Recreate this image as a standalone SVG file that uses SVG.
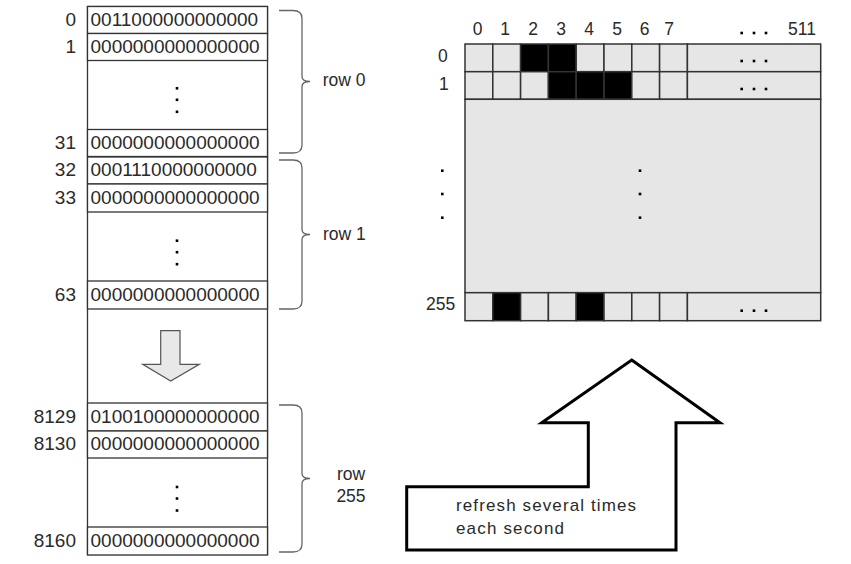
<svg xmlns="http://www.w3.org/2000/svg" width="851" height="564" viewBox="0 0 851 564">
<style>
.t{font-family:"Liberation Sans",Arial,sans-serif;fill:#2a2a2a}
.cell{font-size:19px}
.lab{font-size:19px;text-anchor:end}
.row{font-size:17.5px}
.hdr{font-size:17.5px;text-anchor:middle}
.mem{fill:#fff;stroke:#333;stroke-width:1.3}
.px{fill:#e6e6e6;stroke:#333;stroke-width:1.5}
.on{fill:#000;stroke:#333;stroke-width:1.5}
.brace{fill:none;stroke:#666;stroke-width:1.3}
.dot{fill:#000}
</style>
<defs>
<g id="vdots"><rect x="-1.3" y="-1.3" width="2.6" height="2.6"/><rect x="-1.3" y="10.2" width="2.6" height="2.6"/><rect x="-1.3" y="22.2" width="2.6" height="2.6"/></g>
<g id="vdots-wide"><rect x="-1.3" y="-1.3" width="2.6" height="2.6"/><rect x="-1.3" y="22" width="2.6" height="2.6"/><rect x="-1.3" y="45.7" width="2.6" height="2.6"/></g>
<g id="hdots"><rect x="-1.3" y="-1.3" width="2.6" height="2.6"/><rect x="11" y="-1.3" width="2.6" height="2.6"/><rect x="23" y="-1.3" width="2.6" height="2.6"/></g>
</defs>
<rect width="851" height="564" fill="#fff"/>

<g id="memory">
<rect class="mem" x="87.5" y="6.5" width="180" height="548"/>
<g id="m0"><rect class="mem" x="87.5" y="6.5" width="180" height="27"/><text class="t lab" x="76" y="25.5">0</text><text class="t cell" x="90.5" y="25.5">0011000000000000</text></g>
<g id="m1"><rect class="mem" x="87.5" y="33.5" width="180" height="27"/><text class="t lab" x="76" y="52.5">1</text><text class="t cell" x="90.5" y="52.5">0000000000000000</text></g>
<use href="#vdots" x="177" y="88.3" class="dot"/>
<g id="m31"><rect class="mem" x="87.5" y="129.5" width="180" height="27"/><text class="t lab" x="76" y="148.5">31</text><text class="t cell" x="90.5" y="148.5">0000000000000000</text></g>
<g id="m32"><rect class="mem" x="87.5" y="157" width="180" height="27"/><text class="t lab" x="76" y="176">32</text><text class="t cell" x="90.5" y="176">0001110000000000</text></g>
<g id="m33"><rect class="mem" x="87.5" y="184" width="180" height="28"/><text class="t lab" x="76" y="203.5">33</text><text class="t cell" x="90.5" y="203.5">0000000000000000</text></g>
<use href="#vdots" x="177" y="240.7" class="dot"/>
<g id="m63"><rect class="mem" x="87.5" y="281" width="180" height="28"/><text class="t lab" x="76" y="300.5">63</text><text class="t cell" x="90.5" y="300.5">0000000000000000</text></g>
<g id="m8129"><rect class="mem" x="87.5" y="403" width="180" height="28"/><text class="t lab" x="76" y="422.5">8129</text><text class="t cell" x="90.5" y="422.5">0100100000000000</text></g>
<g id="m8130"><rect class="mem" x="87.5" y="431" width="180" height="27"/><text class="t lab" x="76" y="450">8130</text><text class="t cell" x="90.5" y="450">0000000000000000</text></g>
<use href="#vdots" x="177" y="487" class="dot"/>
<g id="m8160"><rect class="mem" x="87.5" y="527" width="180" height="28"/><text class="t lab" x="76" y="546.5">8160</text><text class="t cell" x="90.5" y="546.5">0000000000000000</text></g>
</g>

<g id="down-arrow">
<polygon points="160.7,330.7 180,330.7 180,364.3 199.3,364.3 170.7,381 142.7,364.3 160.7,364.3" fill="#e8e8e8" stroke="#555" stroke-width="1.2"/>
</g>

<g id="braces">
<g id="brace-row0"><path class="brace" d="M279,10.5 H293 Q302,10.5 302,18.5 V76.5 Q302,81.5 310,81.5 Q302,81.5 302,86.5 V145 Q302,153 293,153 H279"/><text class="t row" x="322.7" y="86">row 0</text></g>
<g id="brace-row1"><path class="brace" d="M279,160 H293 Q302,160 302,168 V229.5 Q302,234.5 310,234.5 Q302,234.5 302,239.5 V301 Q302,309 293,309 H279"/><text class="t row" x="323" y="240">row 1</text></g>
<g id="brace-row255"><path class="brace" d="M279,405 H293 Q302,405 302,413 V473.5 Q302,478.5 310,478.5 Q302,478.5 302,483.5 V544 Q302,552 293,552 H279"/><text class="t row" x="351" y="480" text-anchor="middle">row</text><text class="t row" x="351" y="502" text-anchor="middle">255</text></g>
</g>

<g id="screen">
<g id="headers">
<text class="t hdr" x="477.5" y="35">0</text>
<text class="t hdr" x="505" y="35">1</text>
<text class="t hdr" x="533" y="35">2</text>
<text class="t hdr" x="561" y="35">3</text>
<text class="t hdr" x="589" y="35">4</text>
<text class="t hdr" x="617" y="35">5</text>
<text class="t hdr" x="644.5" y="35">6</text>
<text class="t hdr" x="669" y="35">7</text>
<use href="#hdots" x="741.7" y="33" class="dot"/>
<text class="t hdr" x="802" y="35">511</text>
<text class="t row" x="438" y="62">0</text>
<text class="t row" x="439" y="90">1</text>
<text class="t row" x="426" y="310">255</text>
<use href="#vdots-wide" x="442.3" y="170.7" class="dot"/>
</g>
<g id="screen-row0">
<rect class="px" x="465" y="44" width="27.8" height="27.7"/>
<rect class="px" x="492.8" y="44" width="27.8" height="27.7"/>
<rect class="on" x="520.6" y="44" width="27.8" height="27.7"/>
<rect class="on" x="548.4" y="44" width="27.8" height="27.7"/>
<rect class="px" x="576.2" y="44" width="27.8" height="27.7"/>
<rect class="px" x="604" y="44" width="27.8" height="27.7"/>
<rect class="px" x="631.8" y="44" width="27.8" height="27.7"/>
<rect class="px" x="659.6" y="44" width="27.8" height="27.7"/>
<rect class="px" x="687.4" y="44" width="133.3" height="27.7"/>
<use href="#hdots" x="741.7" y="61" class="dot"/>
</g>
<g id="screen-row1">
<rect class="px" x="465" y="71.7" width="27.8" height="27.6"/>
<rect class="px" x="492.8" y="71.7" width="27.8" height="27.6"/>
<rect class="px" x="520.6" y="71.7" width="27.8" height="27.6"/>
<rect class="on" x="548.4" y="71.7" width="27.8" height="27.6"/>
<rect class="on" x="576.2" y="71.7" width="27.8" height="27.6"/>
<rect class="on" x="604" y="71.7" width="27.8" height="27.6"/>
<rect class="px" x="631.8" y="71.7" width="27.8" height="27.6"/>
<rect class="px" x="659.6" y="71.7" width="27.8" height="27.6"/>
<rect class="px" x="687.4" y="71.7" width="133.3" height="27.6"/>
<use href="#hdots" x="741.7" y="89" class="dot"/>
</g>
<g id="screen-middle">
<rect class="px" x="465" y="99.3" width="355.7" height="193.4"/>
<use href="#vdots-wide" x="640" y="170.7" class="dot"/>
</g>
<g id="screen-row255">
<rect class="px" x="465" y="292.7" width="27.8" height="28"/>
<rect class="on" x="492.8" y="292.7" width="27.8" height="28"/>
<rect class="px" x="520.6" y="292.7" width="27.8" height="28"/>
<rect class="px" x="548.4" y="292.7" width="27.8" height="28"/>
<rect class="on" x="576.2" y="292.7" width="27.8" height="28"/>
<rect class="px" x="604" y="292.7" width="27.8" height="28"/>
<rect class="px" x="631.8" y="292.7" width="27.8" height="28"/>
<rect class="px" x="659.6" y="292.7" width="27.8" height="28"/>
<rect class="px" x="687.4" y="292.7" width="133.3" height="28"/>
<use href="#hdots" x="741.7" y="310.7" class="dot"/>
</g>
</g>

<g id="refresh-arrow">
<polygon points="631.7,360 720,422.7 676,422.7 676,550 406.7,550 406.7,486.7 588.3,486.7 588.3,422.7 541.7,422.7" fill="#fff" stroke="#000" stroke-width="3" stroke-linejoin="miter"/>
<text class="t" font-size="17" x="456" y="511" textLength="180" lengthAdjust="spacing">refresh several times</text>
<text class="t" font-size="17" x="456" y="534" textLength="108" lengthAdjust="spacing">each second</text>
</g>
</svg>
